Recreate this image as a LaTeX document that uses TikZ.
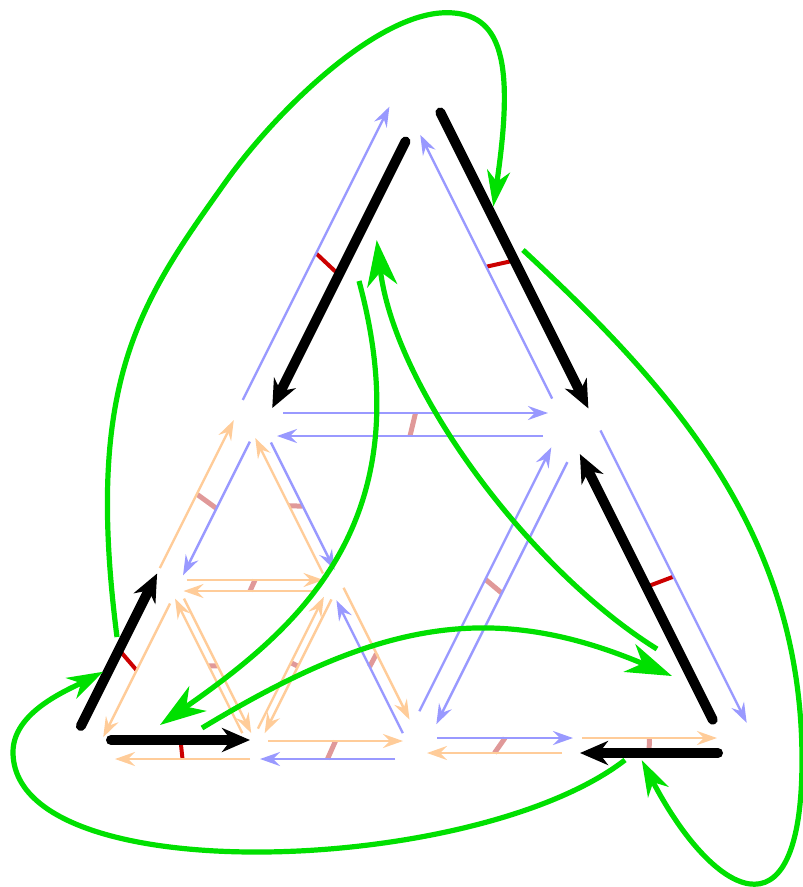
\documentclass[tikz,border=0pt]{standalone}
\usetikzlibrary{arrows.meta,calc,backgrounds}
\definecolor{DartBlue}{HTML}{9999FF}
\definecolor{DartOrange}{HTML}{FFCC99}
\definecolor{TickRed}{HTML}{CC0000}
\definecolor{TickPale}{HTML}{E09999}
\definecolor{LinkGreen}{HTML}{00E000}

\tikzset{
  dart/.style={line width=2.4pt,-{Stealth[length=20pt,width=14pt,inset=7pt]}},
  blue dart/.style={dart,color=DartBlue},
  orange dart/.style={dart,color=DartOrange},
  black dart/.style={line width=10pt,line cap=round,-{Stealth[length=28pt,width=24pt,inset=9pt]}},
  pair/.style={line width=4pt,TickRed},
  pale pair/.style={line width=5pt,TickPale},
  link/.style={LinkGreen,line width=5.2pt,-{Stealth[length=36pt,width=23pt,inset=11pt]}},
  big link/.style={LinkGreen,line width=5.2pt,-{Stealth[length=46pt,width=30pt,inset=14pt]}},
}

% dart from #2 to #3, shifted #4 to its left, cut #5 at the start and #6 at the end
\newcommand\dart[6][]{%
  \draw[#1] ($(#2)!#5pt!(#3)!#4pt!90:(#3)$) -- coordinate (#2#3) ($(#3)!#6pt!(#2)!#4pt!-90:(#2)$);}

\begin{document}
\begin{tikzpicture}[x=1pt,y=-1pt]
  \useasboundingbox (0,0) rectangle (803,887);

  \coordinate (A) at (414,91);
  \coordinate (B) at (84,751);
  \coordinate (C) at (744,751);
  \coordinate (P) at (249,421);
  \coordinate (Q) at (579,421);
  \coordinate (R) at (414,751);
  \coordinate (S) at (166.5,586);
  \coordinate (T) at (331.5,586);
  \coordinate (U) at (249,751);
  \coordinate (V) at (579,751);

  % upper triangle
  \dart[blue dart]{P}{A}{15}{16}{25}
  \dart[black dart]{A}{P}{15}{49}{22}
  \dart[black dart]{A}{Q}{14}{31}{7}
  \dart[blue dart]{Q}{A}{14}{32}{42}
  \dart[blue dart]{P}{Q}{8}{34}{31}
  \dart[blue dart]{Q}{P}{15}{36}{28}

  % lower right triangle
  \dart[blue dart]{Q}{C}{15}{18}{24}
  \dart[black dart]{C}{Q}{14}{42}{30}
  \dart[blue dart]{R}{Q}{13}{38}{36}
  \dart[blue dart]{Q}{R}{8}{42}{34}
  \dart[blue dart]{R}{V}{13}{23}{6}
  \dart[orange dart]{V}{R}{2}{17}{13}
  \dart[orange dart]{V}{C}{13}{3}{27}
  \dart[black dart]{C}{V}{2}{26}{1}

  % lower left triangle
  \dart[black dart]{B}{S}{14}{21}{-7}
  \dart[orange dart]{S}{B}{11}{14}{21}
  \dart[orange dart]{S}{P}{14}{13}{6}
  \dart[blue dart]{P}{S}{10}{18}{17}
  \dart[blue dart]{P}{T}{10}{29}{13}
  \dart[orange dart]{T}{P}{2}{15}{18}
  \dart[orange dart]{S}{T}{6}{20}{8}
  \dart[orange dart]{T}{S}{5}{15}{17}
  \dart[orange dart]{U}{S}{-2}{19}{15}
  \dart[orange dart]{S}{U}{10}{19}{15}
  \dart[orange dart]{U}{T}{2}{24}{13}
  \dart[orange dart]{T}{U}{6}{12}{23}
  \dart[blue dart]{R}{T}{2}{21}{15}
  \dart[orange dart]{T}{R}{10}{7}{30}
  \dart[black dart]{B}{U}{11}{27}{-1}
  \dart[orange dart]{U}{B}{8}{-1}{31}
  \dart[orange dart]{U}{R}{10}{19}{11}
  \dart[blue dart]{R}{U}{8}{19}{11}

  \begin{scope}[on background layer]
    \draw[pair] (PA) -- (AP);
    \draw[pair] (AQ) -- (QA);
    \draw[pair] (QC) -- (CQ);
    \draw[pair] (BS) -- (SB);
    \draw[pair] (BU) -- (UB);
    \draw[pale pair] (PQ) -- (QP);
    \draw[pale pair] (RQ) -- (QR);
    \draw[pale pair] (RV) -- (VR);
    \draw[pale pair] (VC) -- (CV);
    \draw[pale pair] (SP) -- (PS);
    \draw[pale pair] (PT) -- (TP);
    \draw[pale pair] (ST) -- (TS);
    \draw[pale pair] (US) -- (SU);
    \draw[pale pair] (UT) -- (TU);
    \draw[pale pair] (RT) -- (TR);
    \draw[pale pair] (UR) -- (RU);
  \end{scope}

  % outer cycle
  \coordinate (g1a) at (117,637);
  \coordinate (g1b) at (493.3,206.7);
  \coordinate (g2a) at (523,250);
  \coordinate (g2b) at (641.7,760);
  \coordinate (g3a) at (625,760);
  \coordinate (g3b) at (103.3,671.7);
  \draw[link] (g1a) .. controls (84,380) and (140,302) .. (227,180)
    .. controls (276.3,111.2) and (376.7,12.7) .. (446.7,12.7)
    .. controls (501.7,12.7) and (515,60) .. (g1b);
  \draw[link] (g2a) .. controls (669,386) and (802,530) .. (802,760)
    .. controls (802,950) and (710.7,893.5) .. (g2b);
  \draw[link] (g3a) .. controls (475,876) and (13,892) .. (13,752)
    .. controls (13,712) and (67.7,690) .. (g3b);

  % inner cycle
  \coordinate (g4a) at (359,281);
  \coordinate (g4b) at (160,725);
  \coordinate (g5a) at (202,728);
  \coordinate (g5b) at (672,676);
  \coordinate (g6a) at (657,649);
  \coordinate (g6b) at (376.7,240);
  \draw[big link] (g4a) .. controls (424,521) and (299,628) .. (g4b);
  \draw[big link] (g5a) .. controls (374,624) and (488,598) .. (g5b);
  \draw[big link] (g6a) .. controls (529.5,569.5) and (394.7,388.5) .. (g6b);
\end{tikzpicture}
\end{document}
